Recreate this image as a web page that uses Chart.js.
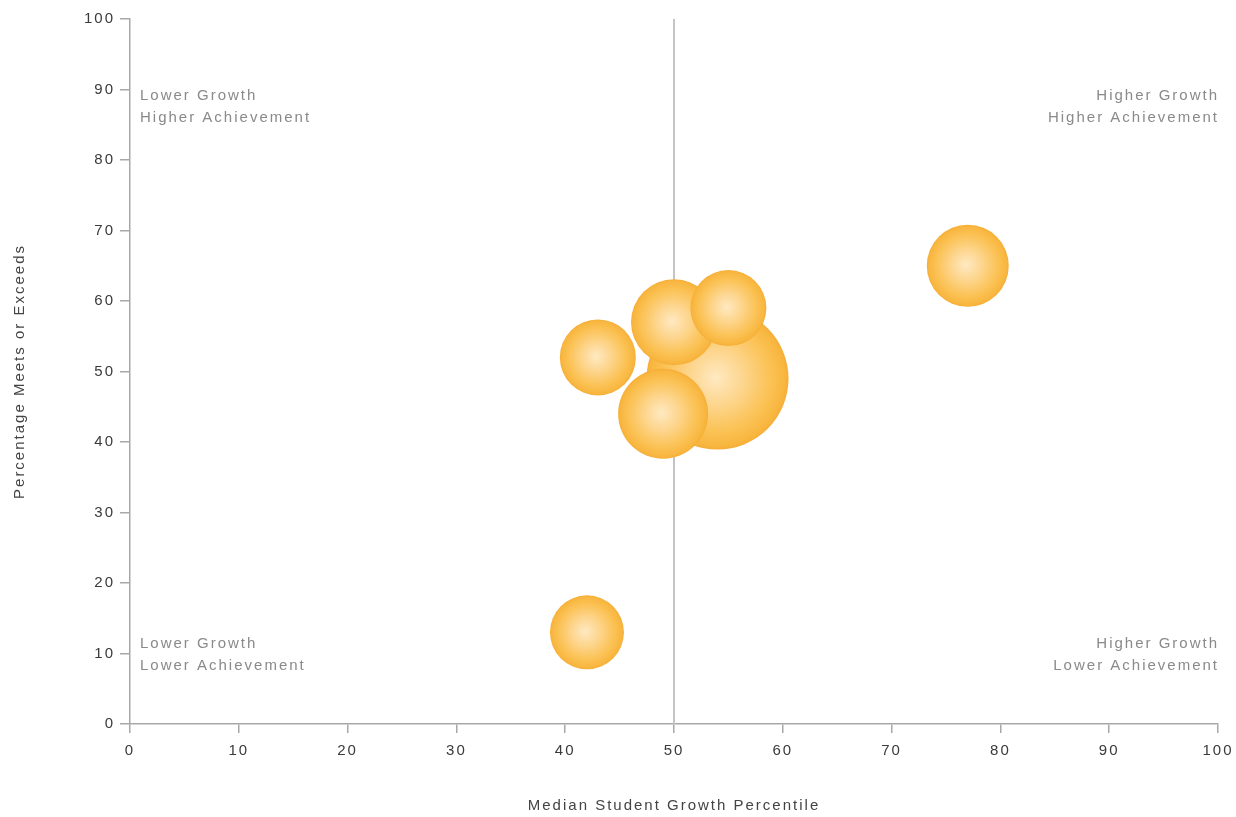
<!DOCTYPE html>
<html>
<head>
<meta charset="utf-8">
<script src="https://cdn.jsdelivr.net/npm/chart.js@4/dist/chart.umd.min.js"></script>
<style>
  html, body { margin: 0; padding: 0; background: #fff; }
  #wrap { width: 1236px; height: 817px; }
</style>
</head>
<body>
<div id="wrap"><canvas id="bubble_chart" width="1236" height="817"></canvas></div>
<script>
// data (drawn back to front)
var growth = [54, 50, 55, 49, 43, 77, 42];
var achievement = [49, 57, 59, 44, 52, 65, 13];
var bubbleSize = [71, 43, 38, 45, 38, 41, 37];
var axisTicks = [0, 10, 20, 30, 40, 50, 60, 70, 80, 90, 100];
var quadrants = [
    ['Lower Growth', 'Higher Achievement'],
    ['Higher Growth', 'Higher Achievement'],
    ['Lower Growth', 'Lower Achievement'],
    ['Higher Growth', 'Lower Achievement']
];

var points = [];
for (var i = 0; i < growth.length; i++) {
    points.push({x: growth[i], y: achievement[i], r: bubbleSize[i]});
}

Chart.defaults.font.family = '"Liberation Sans", Arial, sans-serif';
Chart.defaults.font.size = 15;
Chart.defaults.color = '#444';

function bubbleFill(ctx) {
    if (ctx.type !== 'data' || !ctx.raw) return '#f8b53d';
    var chart = ctx.chart;
    var xs = chart.scales.x, ys = chart.scales.y;
    if (!xs || !ys) return '#f8b53d';
    var raw = ctx.raw;
    var cx = xs.getPixelForValue(raw.x);
    var cy = ys.getPixelForValue(raw.y);
    if (!isFinite(cx) || !isFinite(cy)) return '#f8b53d';
    var g = chart.ctx.createRadialGradient(cx - 2, cy - 1, 0, cx, cy, raw.r);
    g.addColorStop(0, '#ffe9c2');
    g.addColorStop(0.35, '#fdd792');
    g.addColorStop(0.75, '#fbc255');
    g.addColorStop(0.95, '#f8b63f');
    g.addColorStop(1, '#f5ae38');
    return g;
}

var spacing = {
    id: 'spacing',
    beforeLayout: function(chart) { chart.ctx.letterSpacing = '2px'; },
    beforeDraw: function(chart) { chart.ctx.letterSpacing = '2px'; }
};

var quadrantStuff = {
    id: 'quadrantStuff',
    beforeDatasetsDraw: function(chart) {
        var c = chart.ctx;
        var a = chart.chartArea;
        var mid = chart.scales.x.getPixelForValue(50);
        c.save();
        c.strokeStyle = '#c4c4c4';
        c.lineWidth = 2;
        c.beginPath();
        c.moveTo(mid, a.top);
        c.lineTo(mid, a.bottom);
        c.stroke();

        c.letterSpacing = '2px';
        c.font = '15px "Liberation Sans", Arial, sans-serif';
        c.fillStyle = '#8a8a8a';
        c.textBaseline = 'alphabetic';
        var leftX = a.left + 10, rightX = a.right + 1;
        var topY = [a.top + 81, a.top + 103];
        var botY = [a.bottom - 76, a.bottom - 54];
        for (var k = 0; k < 2; k++) {
            c.textAlign = 'left';
            c.fillText(quadrants[0][k], leftX, topY[k]);
            c.fillText(quadrants[2][k], leftX, botY[k]);
            c.textAlign = 'right';
            c.fillText(quadrants[1][k], rightX, topY[k]);
            c.fillText(quadrants[3][k], rightX, botY[k]);
        }
        c.restore();
    }
};

var chart = new Chart(document.getElementById('bubble_chart'), {
    type: 'bubble',
    data: {
        datasets: [{
            label: 'Schools',
            data: points,
            backgroundColor: bubbleFill,
            borderWidth: 0,
            hoverBorderWidth: 0
        }]
    },
    options: {
        responsive: false,
        animation: false,
        events: [],
        layout: {autoPadding: false, padding: {top: 19, right: 18, left: 0, bottom: 0}},
        plugins: {legend: {display: false}, tooltip: {enabled: false}},
        scales: {
            x: {
                type: 'linear',
                min: 0, max: 100,
                afterBuildTicks: function(s) { s.ticks = axisTicks.map(function(v) { return {value: v}; }); },
                afterFit: function(s) { s.height = 93; s.paddingLeft = 0; s.paddingRight = 0; },
                grid: {drawOnChartArea: false, drawTicks: true, tickLength: 9, color: '#a8a8a8', lineWidth: 1.5},
                border: {display: true, color: '#a8a8a8', width: 1.5},
                ticks: {padding: 9, color: '#3a3a3a', maxRotation: 0, autoSkip: false},
                title: {display: true, text: 'Median Student Growth Percentile', color: '#444', padding: {top: 0, bottom: 2}}
            },
            y: {
                type: 'linear',
                min: 0, max: 100,
                afterBuildTicks: function(s) { s.ticks = axisTicks.map(function(v) { return {value: v}; }); },
                afterFit: function(s) { s.width = 130; s.paddingTop = 0; s.paddingBottom = 0; },
                grid: {drawOnChartArea: false, drawTicks: true, tickLength: 10, color: '#a8a8a8', lineWidth: 1.5},
                border: {display: true, color: '#a8a8a8', width: 1.5},
                ticks: {padding: 5, color: '#3a3a3a', autoSkip: false},
                title: {display: true, text: 'Percentage Meets or Exceeds', color: '#444', padding: {top: 11, bottom: 0}}
            }
        }
    },
    plugins: [spacing, quadrantStuff]
});
</script>
</body>
</html>
